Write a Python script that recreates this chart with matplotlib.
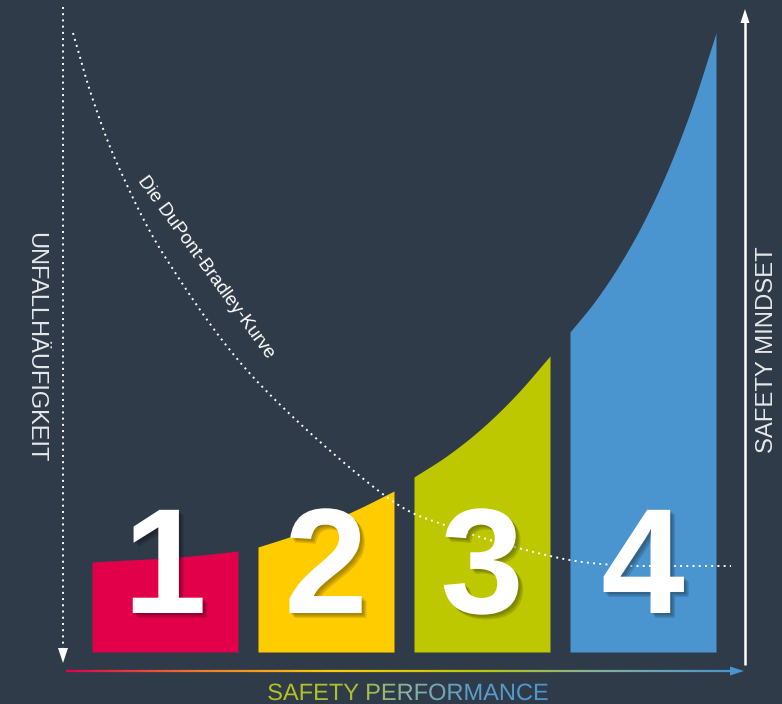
import numpy as np
import matplotlib
matplotlib.use('Agg')
import matplotlib.pyplot as plt
import matplotlib.patheffects as pe
from matplotlib.collections import LineCollection
from matplotlib.colors import LinearSegmentedColormap
from matplotlib.textpath import TextPath
from matplotlib.font_manager import FontProperties
from matplotlib.patches import PathPatch
from matplotlib.transforms import Affine2D

# stage labels and the height of each stage's top edge (read left -> right, px above baseline)
stages = ['1', '2', '3', '4']
stage_colors = ['#e2004a', '#ffcc00', '#bdc800', '#4a94d0']
top_1 = [90, 92, 94, 97, 101]
top_2 = [105, 116, 129, 144, 161]
top_3 = [175, 197, 224, 257, 296]
top_4 = [320, 350, 386, 429, 481, 544, 619]
tops = [top_1, top_2, top_3, top_4]

# DuPont-Bradley curve (x, height above baseline)
curve_x = [73, 93, 120, 167, 253, 380, 450, 550, 613, 670, 731]
curve_y = [619, 552, 482, 392, 275, 160, 125, 96, 87, 86, 86]

# layout
bar_left = [92, 258, 414, 570]
bar_width = [146, 136, 136, 146]
bg = '#303b49'


def smooth(x, y, n=24):
    # catmull-rom through the read points, only for drawing
    pts = np.column_stack([x, y]).astype(float)
    pad = np.vstack([2 * pts[0] - pts[1], pts, 2 * pts[-1] - pts[-2]])
    t = np.linspace(0, 1, n, endpoint=False)[:, None]
    out = []
    for i in range(1, len(pad) - 2):
        p0, p1, p2, p3 = pad[i - 1], pad[i], pad[i + 1], pad[i + 2]
        out.append(0.5 * (2 * p1 + (-p0 + p2) * t + (2 * p0 - 5 * p1 + 4 * p2 - p3) * t ** 2
                          + (-p0 + 3 * p1 - 3 * p2 + p3) * t ** 3))
    out.append(pts[-1:])
    s = np.vstack(out)
    return s[:, 0], s[:, 1]


fig = plt.figure(figsize=(7.82, 7.04), dpi=100)
fig.patch.set_facecolor(bg)
ax = fig.add_axes([0, 0, 1, 1])
ax.set_facecolor(bg)
ax.set_xlim(0, 782)
ax.set_ylim(-52, 652)
ax.axis('off')

# bars with curved tops
for left, w, top, col in zip(bar_left, bar_width, tops, stage_colors):
    xs, ys = smooth(np.linspace(left, left + w, len(top)), top)
    ax.fill_between(xs, 0, ys, color=col, lw=0, zorder=2)

# dotted curve
cx, cy = smooth(curve_x, curve_y)
ax.plot(cx, cy, color='white', lw=1.4, ls=(0, (1, 2.2)), zorder=3)
ax.text(206, 385, 'Die DuPont-Bradley-Kurve', rotation=-54, rotation_mode='anchor',
        ha='center', va='center', color='white', fontsize=13.5, family='Liberation Sans', zorder=4)

# big numbers with soft shadow
shadow = [pe.SimplePatchShadow(offset=(o, -o), shadow_rgbFace='black', alpha=0.12) for o in (1.5, 2.5, 3.5)]
for left, w, s in zip(bar_left, bar_width, stages):
    ax.text(left + w / 2, 39, s, ha='center', va='baseline', color='white',
            fontsize=108, fontweight='bold', family='Liberation Sans', zorder=5,
            path_effects=shadow + [pe.Normal()])

# left dotted axis pointing down
ax.plot([63, 63], [645, 4], color='white', lw=1.4, ls=(0, (1, 2.2)), zorder=3)
ax.fill([58, 68, 63], [4, 4, -11], color='white', lw=0, zorder=3)

# right solid axis pointing up
ax.plot([745, 745], [-13, 630], color='white', lw=1.8, solid_capstyle='butt', zorder=3)
ax.fill([740.5, 749.5, 745], [629, 629, 643], color='white', lw=0, zorder=3)

# gradient arrow at the bottom
grad = LinearSegmentedColormap.from_list('perf', [(0, '#e2004a'), (0.2, '#f07a2a'), (0.4, '#ffcc00'),
                                                  (0.62, '#bdc800'), (0.8, '#7fb29a'), (1, '#4a94d0')])
gx = np.linspace(66, 731, 300)
segs = [[(gx[i], -19), (gx[i + 1], -19)] for i in range(len(gx) - 1)]
lc = LineCollection(segs, colors=grad(np.linspace(0, 1, len(segs))), linewidths=1.6, zorder=3)
ax.add_collection(lc)
ax.fill([730, 730, 744], [-14.5, -23.5, -19], color='#4a94d0', lw=0, zorder=3)

# axis titles
ax.text(35, 305, 'UNFALLHÄUFIGKEIT', rotation=-90, ha='center', va='center',
        color='#e6e8ea', fontsize=17, family='Liberation Sans')
ax.text(767, 302, 'SAFETY MINDSET', rotation=90, ha='center', va='center',
        color='#e6e8ea', fontsize=17.2, family='Liberation Sans')

# gradient-coloured x title
fp = FontProperties(family='Liberation Sans')
tp = TextPath((0, 0), 'SAFETY PERFORMANCE', size=23.6, prop=fp)
ext = tp.get_extents()
tp = tp.transformed(Affine2D().translate(408 - (ext.x0 + ext.x1) / 2, -48))
patch = PathPatch(tp, facecolor='none', edgecolor='none')
ax.add_patch(patch)
tgrad = LinearSegmentedColormap.from_list('title', [(0, '#b7c41a'), (0.33, '#a9c035'),
                                                    (0.5, '#88b3a2'), (0.7, '#5c9fc8'), (1, '#4a94d0')])
img = ax.imshow(np.linspace(0, 1, 256)[None, :], cmap=tgrad, aspect='auto',
                extent=[262, 554, -52, -26], zorder=4)
img.set_clip_path(patch)
ax.set_xlim(0, 782)
ax.set_ylim(-52, 652)

fig.savefig('out.png', dpi=100, facecolor=bg)
